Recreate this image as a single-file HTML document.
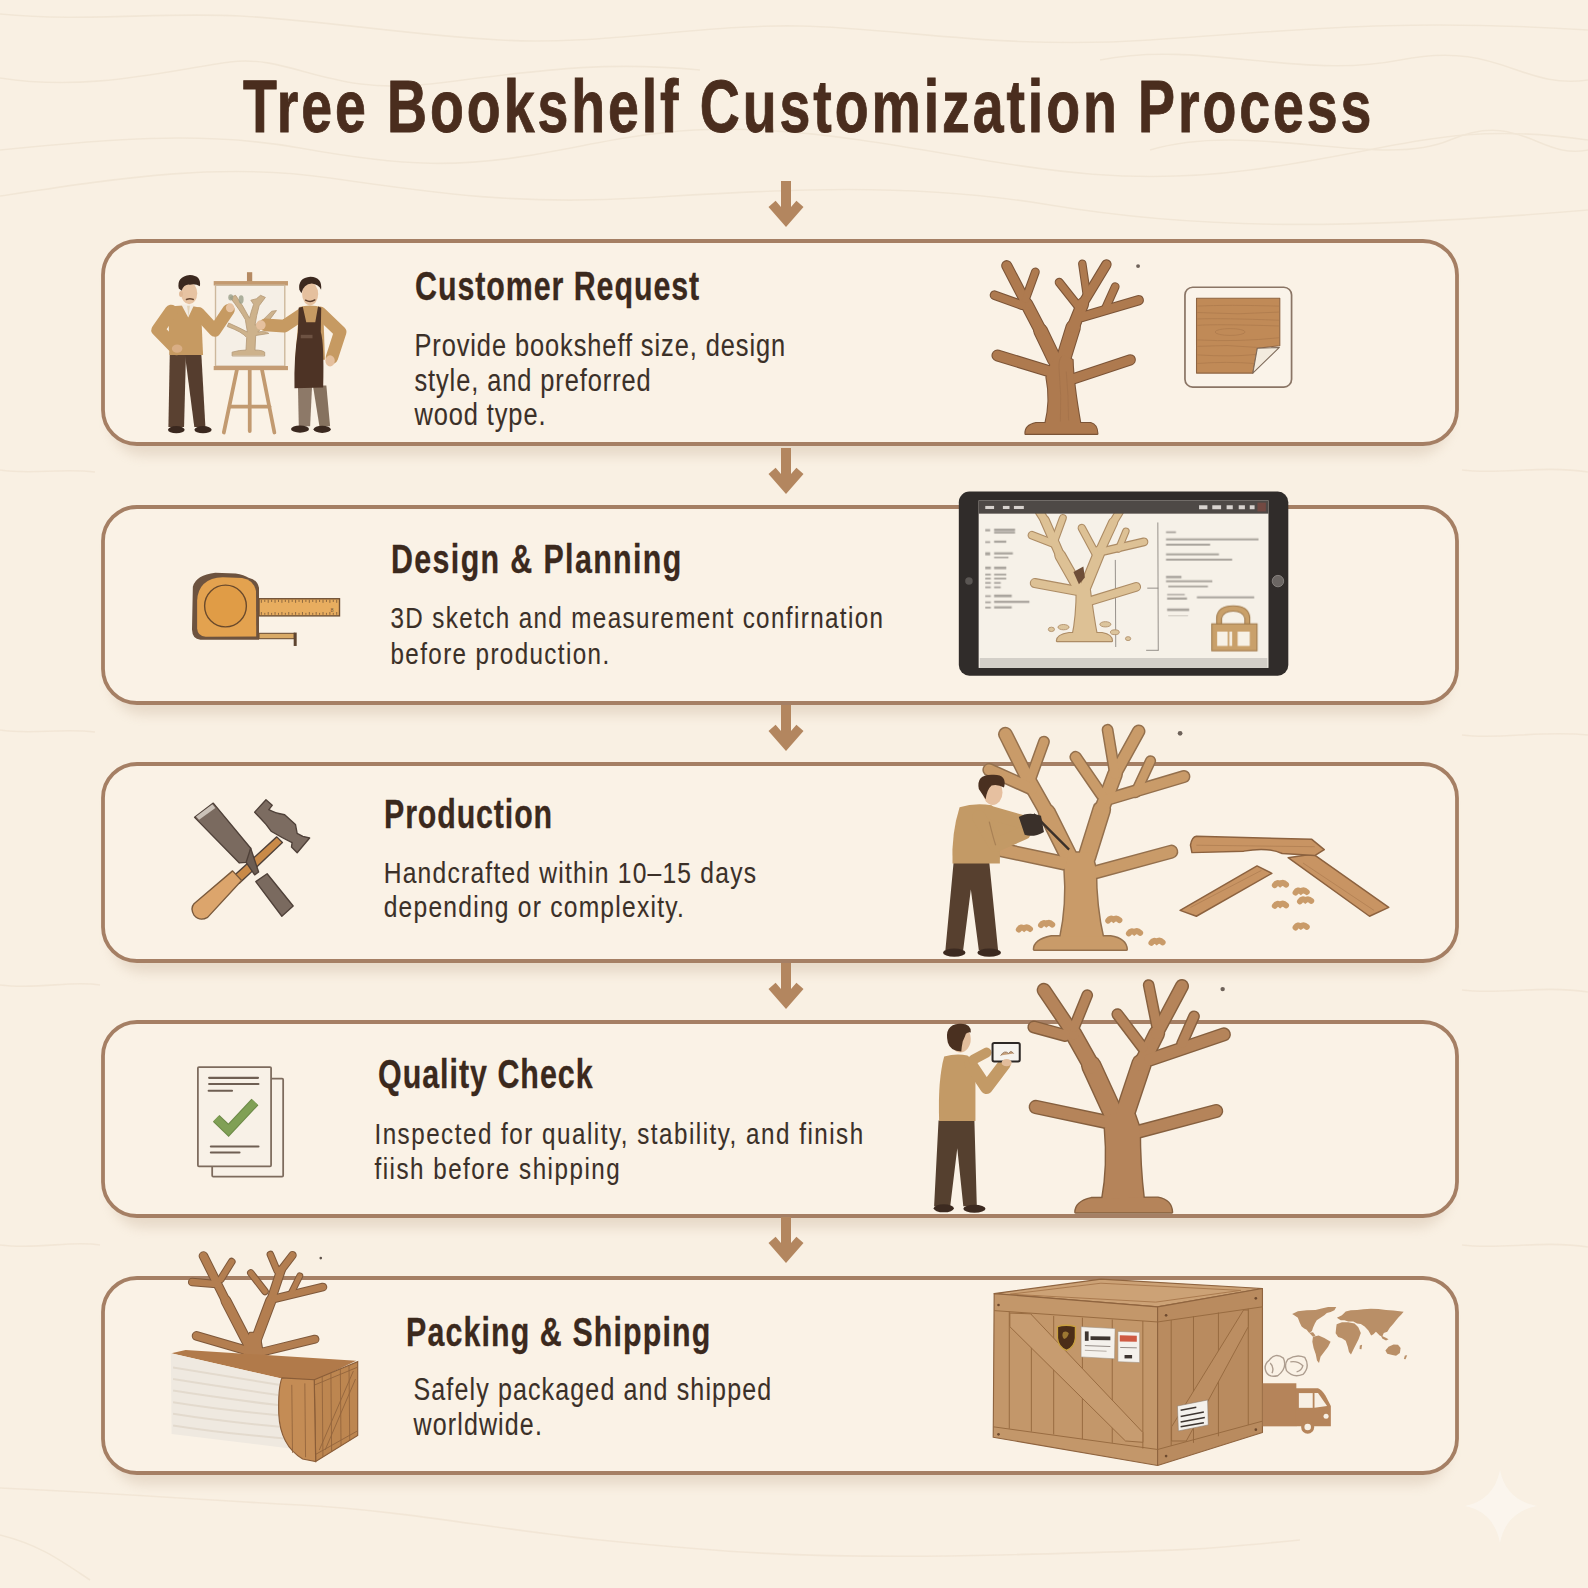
<!DOCTYPE html>
<html><head><meta charset="utf-8">
<style>
html,body{margin:0;padding:0;width:1588px;height:1588px;overflow:hidden;background:#f9f0e3;}
svg{position:absolute;left:0;top:0;}
.t{font-family:"Liberation Sans",sans-serif;}
</style></head>
<body>
<svg width="1588" height="1588" viewBox="0 0 1588 1588">
<defs>
 <filter id="sh" x="-5%" y="-20%" width="110%" height="150%">
  <feGaussianBlur stdDeviation="6"/>
 </filter>
 <path id="arr" d="M0,0 L-17.5,-20 L-10.4,-26.3 L-5,-20.1 L-5,-46 L5,-46 L5,-20.1 L10.4,-26.3 L17.5,-20 Z"/>
</defs>
<g id="grain" fill="none" stroke="#ecdfcc" stroke-width="1.6" opacity="0.55">
 <path d="M0,14 C80,22 160,12 240,16 S400,34 500,40 S700,24 800,26 S1000,50 1150,40 S1400,18 1588,30"/>
 <path d="M0,78 C90,92 170,70 230,62 S330,96 430,84 S600,60 700,70"/>
 <path d="M0,150 C100,140 200,130 300,148 S460,170 560,150 S720,120 860,140 S1100,190 1250,170 S1450,120 1588,140"/>
 <path d="M0,196 C120,178 220,162 330,178 S520,205 640,198 S900,180 1050,205 S1350,230 1588,210"/>
 <path d="M1100,60 C1200,40 1300,80 1400,60 S1520,90 1588,80"/>
 <path d="M1150,150 C1250,120 1380,170 1450,140 S1540,160 1588,150"/>
 <path d="M0,470 C30,475 60,468 95,472"/><path d="M0,730 C30,735 60,728 95,732"/>
 <path d="M0,985 C40,990 70,980 100,985"/><path d="M0,1245 C40,1250 70,1240 100,1245"/>
 <path d="M1462,470 C1500,475 1540,465 1588,472"/><path d="M1462,735 C1500,740 1540,730 1588,735"/>
 <path d="M1462,990 C1500,995 1540,985 1588,992"/><path d="M1462,1245 C1500,1250 1540,1240 1588,1247"/>
 <path d="M0,1488 C100,1492 200,1500 300,1505 S500,1530 600,1540 S800,1560 1000,1555 S1200,1550 1300,1540"/>
 <path d="M0,1535 C40,1545 60,1560 90,1580"/>
</g>
<g fill="#b09478" opacity="0.24" filter="url(#sh)">
 <rect x="110" y="250" width="1340" height="206" rx="34"/>
 <rect x="110" y="516" width="1340" height="199" rx="34"/>
 <rect x="110" y="773" width="1340" height="200" rx="34"/>
 <rect x="110" y="1031" width="1340" height="197" rx="34"/>
 <rect x="110" y="1287" width="1340" height="198" rx="34"/>
</g>
<g fill="#faf2e6" stroke="#a57f64" stroke-width="3.8">
 <rect x="103" y="241" width="1354" height="203" rx="34"/>
 <rect x="103" y="507" width="1354" height="196" rx="34"/>
 <rect x="103" y="764" width="1354" height="197" rx="34"/>
 <rect x="103" y="1022" width="1354" height="194" rx="34"/>
 <rect x="103" y="1278" width="1354" height="195" rx="34"/>
</g>
<g fill="#b3865f">
 <use href="#arr" transform="translate(786,227)"/>
 <use href="#arr" transform="translate(786,494)"/>
 <use href="#arr" transform="translate(786,751)"/>
 <use href="#arr" transform="translate(786,1009)"/>
 <use href="#arr" transform="translate(786,1263)"/>
</g>
<!-- card1 left: two men + easel ; zoom coords from [140,260,360,440] @7.218 -->
<g transform="translate(140,260) scale(0.13855)" stroke-linejoin="round" stroke-linecap="round">
 <!-- easel legs -->
 <g stroke="#c29a70" stroke-width="27" fill="none" stroke-linecap="round">
  <line x1="700" y1="790" x2="605" y2="1245"/>
  <line x1="880" y1="790" x2="970" y2="1245"/>
  <line x1="792" y1="790" x2="792" y2="1235"/>
  <line x1="650" y1="1058" x2="935" y2="1058"/>
 </g>
 <rect x="772" y="88" width="38" height="75" fill="#b58a62"/>
 <rect x="532" y="152" width="536" height="32" fill="#c39a70"/>
 <rect x="545" y="182" width="500" height="585" fill="#f5efe6" stroke="#cdb89c" stroke-width="10"/>
 <rect x="532" y="765" width="536" height="30" fill="#c49c74"/>
 <!-- drawn tree on canvas -->
 <g fill="#cdb28c" stroke="#b49a78" stroke-width="6">
  <path d="M665,690 L665,665 Q720,650 765,650 L770,560 Q740,520 630,480 L640,455 Q720,490 775,520 L760,430 Q720,360 650,270 L690,255 Q745,330 790,420 Q800,380 820,320 L800,290 L840,280 L870,255 L905,270 L860,330 Q840,400 830,470 Q890,440 950,370 L985,365 Q930,450 850,520 Q900,510 930,530 L835,545 L830,650 Q880,650 900,665 L900,690 Z"/>
 </g>
 <g fill="#9aa08a" opacity="0.8">
  <ellipse cx="730" cy="285" rx="18" ry="30"/>
  <ellipse cx="655" cy="270" rx="18" ry="22"/>
 </g>
 <!-- man 1 -->
 <g>
  <path d="M215,665 L332,665 L318,1205 L205,1205 Z" fill="#5a4131"/>
  <path d="M322,665 L442,665 L472,1205 L392,1205 Z" fill="#553d2e"/>
  <ellipse cx="262" cy="1225" rx="60" ry="26" fill="#3a281f"/>
  <ellipse cx="455" cy="1225" rx="62" ry="26" fill="#3a281f"/>
  <path d="M205,345 Q300,312 440,345 L455,685 L212,685 Z" fill="#c69a62"/>
  <g stroke="#c69a62" stroke-linecap="round" stroke-linejoin="round" fill="none">
   <polyline points="225,370 130,505 262,640" stroke-width="95"/>
   <polyline points="425,385 540,510 640,360" stroke-width="88"/>
  </g>
  <path d="M298,322 L348,415 L392,322 Z" fill="#f3ece2"/>
  <path d="M340,330 L350,412 L360,330 Z" fill="#e2d2b8"/>
  <ellipse cx="355" cy="240" rx="58" ry="80" fill="#e7c3a2"/>
  <ellipse cx="296" cy="245" rx="14" ry="22" fill="#e0b896"/>
  <path d="M280,205 Q262,120 360,108 Q445,112 432,190 Q400,168 360,178 Q318,172 300,222 Z" fill="#3b281e"/>
  <path d="M335,285 Q360,275 385,285" stroke="#6b4a35" stroke-width="10" fill="none"/>
  <ellipse cx="650" cy="345" rx="30" ry="32" fill="#e7c3a2"/>
  <ellipse cx="268" cy="640" rx="38" ry="30" fill="#d9ae85"/>
 </g>
 <!-- man 2 -->
 <g>
  <path d="M1140,905 L1242,905 L1228,1200 L1146,1200 Z" fill="#8d7968"/>
  <path d="M1248,905 L1345,905 L1372,1200 L1295,1200 Z" fill="#86725f"/>
  <ellipse cx="1155" cy="1220" rx="65" ry="26" fill="#3a281f"/>
  <ellipse cx="1315" cy="1222" rx="62" ry="26" fill="#3a281f"/>
  <path d="M1150,340 Q1230,315 1322,345 L1335,720 L1120,720 Z" fill="#c69a62"/>
  <g stroke="#c69a62" stroke-linecap="round" stroke-linejoin="round" fill="none">
   <polyline points="1165,395 1040,478 905,468" stroke-width="92"/>
   <polyline points="1300,380 1445,520 1385,705" stroke-width="90"/>
  </g>
  <path d="M1145,345 L1175,338 L1200,450 L1265,450 L1285,335 L1308,345 L1305,520 Q1330,600 1322,920 L1115,925 Q1110,700 1140,520 Z" fill="#4d3325"/>
  <ellipse cx="1228" cy="245" rx="58" ry="82" fill="#e5c09e"/>
  <path d="M1150,215 Q1138,128 1230,120 Q1318,123 1307,215 Q1290,175 1240,170 Q1180,175 1165,240 Z" fill="#3b281e"/>
  <path d="M1195,290 Q1230,310 1262,288" stroke="#5a3b2b" stroke-width="10" fill="none"/>
  <ellipse cx="872" cy="470" rx="35" ry="35" fill="#e5c09e"/>
  <ellipse cx="1372" cy="728" rx="34" ry="40" fill="#e5c09e"/>
  <rect x="1160" y="540" width="85" height="25" fill="#6d5242"/>
 </g>
</g>


<g transform="translate(980,255) scale(0.11652)"><g stroke="#7b5437" fill="#7b5437" stroke-linecap="round" stroke-linejoin="round">
<line x1="600" y1="1000" x2="150" y2="862" stroke-width="103"/>
<line x1="780" y1="1070" x2="1290" y2="900" stroke-width="96"/>
<line x1="640" y1="900" x2="520" y2="650" stroke-width="128"/>
<line x1="520" y1="650" x2="400" y2="420" stroke-width="113"/>
<line x1="400" y1="420" x2="230" y2="92" stroke-width="96"/>
<line x1="390" y1="380" x2="475" y2="145" stroke-width="76"/>
<line x1="360" y1="430" x2="125" y2="345" stroke-width="83"/>
<line x1="720" y1="880" x2="800" y2="620" stroke-width="133"/>
<line x1="800" y1="620" x2="880" y2="420" stroke-width="113"/>
<line x1="880" y1="420" x2="1085" y2="82" stroke-width="90"/>
<line x1="915" y1="330" x2="878" y2="75" stroke-width="73"/>
<line x1="850" y1="450" x2="680" y2="235" stroke-width="78"/>
<line x1="880" y1="530" x2="1362" y2="388" stroke-width="90"/>
<line x1="1075" y1="462" x2="1160" y2="272" stroke-width="76"/>
<path d="M560,1450 Q610,1250 570,1050 L600,950 L650,870 L720,860 L795,900 Q800,1100 862,1450 Z" stroke-width="18"/>
<path d="M390,1535 Q385,1462 480,1442 L950,1442 Q1005,1456 1008,1535 Z" stroke-width="18"/>
</g>
<g stroke="#ae7a4f" fill="#ae7a4f" stroke-linecap="round" stroke-linejoin="round">
<line x1="600" y1="1000" x2="150" y2="862" stroke-width="85"/>
<line x1="780" y1="1070" x2="1290" y2="900" stroke-width="78"/>
<line x1="640" y1="900" x2="520" y2="650" stroke-width="110"/>
<line x1="520" y1="650" x2="400" y2="420" stroke-width="95"/>
<line x1="400" y1="420" x2="230" y2="92" stroke-width="78"/>
<line x1="390" y1="380" x2="475" y2="145" stroke-width="58"/>
<line x1="360" y1="430" x2="125" y2="345" stroke-width="65"/>
<line x1="720" y1="880" x2="800" y2="620" stroke-width="115"/>
<line x1="800" y1="620" x2="880" y2="420" stroke-width="95"/>
<line x1="880" y1="420" x2="1085" y2="82" stroke-width="72"/>
<line x1="915" y1="330" x2="878" y2="75" stroke-width="55"/>
<line x1="850" y1="450" x2="680" y2="235" stroke-width="60"/>
<line x1="880" y1="530" x2="1362" y2="388" stroke-width="72"/>
<line x1="1075" y1="462" x2="1160" y2="272" stroke-width="58"/>
<path d="M560,1450 Q610,1250 570,1050 L600,950 L650,870 L720,860 L795,900 Q800,1100 862,1450 Z" stroke="none"/>
<path d="M390,1535 Q385,1462 480,1442 L950,1442 Q1005,1456 1008,1535 Z" stroke="none"/>
</g>
<g stroke="#9a6b45" stroke-width="6" fill="none" opacity="0.6"><path d="M690,1430 Q700,1200 680,1000 Q670,900 700,870"/><path d="M760,1420 Q760,1200 740,1000"/></g></g>
<g transform="translate(970,250) scale(0.2141)">
<circle cx="785" cy="75" r="9" fill="#6e625a"/>
<rect x="1004" y="174" width="498" height="466" rx="36" fill="#faf3e9" stroke="#8a7565" stroke-width="8"/>
<path d="M1058,225 L1447,225 L1447,447 L1342,459 L1321,575 L1058,575 Z" fill="#c08a57" stroke="#8e6442" stroke-width="5" stroke-linejoin="round"/>
<g stroke="#a9764a" stroke-width="4" fill="none" opacity="0.7">
 <path d="M1062,262 Q1200,255 1443,262"/><path d="M1062,292 Q1250,305 1443,290"/>
 <path d="M1062,322 Q1180,318 1443,328"/><path d="M1062,352 Q1150,345 1443,355"/><path d="M1062,420 Q1250,430 1443,410"/>
 <path d="M1062,450 Q1200,440 1340,455"/><path d="M1062,490 Q1220,500 1335,488"/>
 <path d="M1062,530 Q1200,520 1328,530"/>
 <ellipse cx="1215" cy="383" rx="70" ry="16"/>
</g>
<path d="M1342,459 L1445,455 L1321,575 Z" fill="#f3ebde" stroke="#7e6a5a" stroke-width="5" stroke-linejoin="round"/>
</g>
<g transform="translate(950,485) scale(0.2204)">
<rect x="40" y="30" width="1495" height="835" rx="48" fill="#302c2a"/>
<circle cx="86" cy="436" r="17" fill="#5a5653"/>
<circle cx="1488" cy="436" r="26" fill="#6b6663" stroke="#8a8582" stroke-width="4"/>
<rect x="130" y="70" width="1315" height="760" fill="#f6f1e8"/>
<rect x="135" y="785" width="1305" height="45" fill="#d3cfc8"/>
<g stroke="#8a847e" stroke-width="4"><line x1="750" y1="340" x2="752" y2="735"/><line x1="943" y1="170" x2="945" y2="752"/>
<line x1="895" y1="468" x2="945" y2="468"/><line x1="890" y1="750" x2="945" y2="750"/></g>
<g stroke="#ad8c65" fill="#ad8c65" stroke-linecap="round" stroke-linejoin="round">
<line x1="585" y1="470" x2="500" y2="320" stroke-width="54"/>
<line x1="500" y1="320" x2="430" y2="160" stroke-width="46"/>
<line x1="430" y1="160" x2="405" y2="120" stroke-width="42"/>
<line x1="480" y1="270" x2="372" y2="228" stroke-width="40"/>
<line x1="470" y1="265" x2="512" y2="150" stroke-width="36"/>
<line x1="615" y1="460" x2="680" y2="300" stroke-width="56"/>
<line x1="680" y1="300" x2="740" y2="170" stroke-width="46"/>
<line x1="740" y1="170" x2="770" y2="120" stroke-width="40"/>
<line x1="665" y1="320" x2="598" y2="195" stroke-width="38"/>
<line x1="700" y1="300" x2="880" y2="258" stroke-width="40"/>
<line x1="765" y1="290" x2="798" y2="210" stroke-width="34"/>
<line x1="575" y1="480" x2="385" y2="445" stroke-width="46"/>
<line x1="640" y1="525" x2="845" y2="462" stroke-width="44"/>
<path d="M555,690 Q575,600 575,470 L630,440 Q650,600 668,690 Z" stroke-width="10"/>
<path d="M485,708 Q485,680 540,672 L690,672 Q735,680 735,708 Z" stroke-width="10"/>
</g>
<g stroke="#ddc195" fill="#ddc195" stroke-linecap="round" stroke-linejoin="round">
<line x1="585" y1="470" x2="500" y2="320" stroke-width="44"/>
<line x1="500" y1="320" x2="430" y2="160" stroke-width="36"/>
<line x1="430" y1="160" x2="405" y2="120" stroke-width="32"/>
<line x1="480" y1="270" x2="372" y2="228" stroke-width="30"/>
<line x1="470" y1="265" x2="512" y2="150" stroke-width="26"/>
<line x1="615" y1="460" x2="680" y2="300" stroke-width="46"/>
<line x1="680" y1="300" x2="740" y2="170" stroke-width="36"/>
<line x1="740" y1="170" x2="770" y2="120" stroke-width="30"/>
<line x1="665" y1="320" x2="598" y2="195" stroke-width="28"/>
<line x1="700" y1="300" x2="880" y2="258" stroke-width="30"/>
<line x1="765" y1="290" x2="798" y2="210" stroke-width="24"/>
<line x1="575" y1="480" x2="385" y2="445" stroke-width="36"/>
<line x1="640" y1="525" x2="845" y2="462" stroke-width="34"/>
<path d="M555,690 Q575,600 575,470 L630,440 Q650,600 668,690 Z" stroke="none"/>
<path d="M485,708 Q485,680 540,672 L690,672 Q735,680 735,708 Z" stroke="none"/>
</g>

<rect x="130" y="70" width="1315" height="60" fill="#4e4946"/>
<g fill="#d8d3cf"><rect x="160" y="95" width="40" height="14"/><rect x="240" y="95" width="30" height="14"/><rect x="290" y="95" width="45" height="14"/>
<rect x="1130" y="92" width="38" height="18"/><rect x="1190" y="92" width="40" height="18"/><rect x="1255" y="92" width="28" height="18"/><rect x="1310" y="92" width="28" height="18"/><rect x="1360" y="92" width="22" height="18"/></g>
<rect x="1395" y="80" width="38" height="40" fill="#8a4a40" opacity="0.6"/>
<path d="M560,395 L605,370 L612,420 L585,450 Z" fill="#6e4e38"/>
<g fill="#dcc59d" stroke="#b0906a" stroke-width="4"><ellipse cx="515" cy="645" rx="25" ry="12"/><ellipse cx="705" cy="632" rx="25" ry="12"/><ellipse cx="748" cy="668" rx="20" ry="11"/><ellipse cx="460" cy="655" rx="14" ry="10"/><ellipse cx="808" cy="697" rx="12" ry="9"/></g>
<g fill="#6a645f" opacity="0.55">
 <rect x="160" y="200" width="22" height="10"/><rect x="200" y="198" width="95" height="12"/><rect x="200" y="212" width="95" height="8"/>
 <rect x="160" y="255" width="22" height="8"/><rect x="200" y="252" width="55" height="10"/>
 <rect x="160" y="305" width="22" height="14"/><rect x="200" y="305" width="85" height="10"/><rect x="200" y="325" width="65" height="7"/>
 <rect x="160" y="370" width="25" height="12"/><rect x="200" y="370" width="55" height="12"/>
 <rect x="160" y="402" width="25" height="8"/><rect x="200" y="402" width="55" height="8"/>
 <rect x="160" y="420" width="25" height="8"/><rect x="200" y="420" width="55" height="8"/>
 <rect x="160" y="440" width="25" height="8"/><rect x="200" y="440" width="30" height="8"/>
 <rect x="160" y="460" width="25" height="8"/><rect x="200" y="460" width="30" height="8"/>
 <rect x="160" y="500" width="25" height="8"/><rect x="200" y="497" width="80" height="12"/>
 <rect x="160" y="528" width="25" height="8"/><rect x="200" y="525" width="160" height="10"/>
 <rect x="160" y="552" width="25" height="8"/><rect x="200" y="550" width="80" height="10"/>
 <rect x="980" y="210" width="45" height="8"/>
 <rect x="980" y="242" width="420" height="9"/><rect x="980" y="266" width="200" height="9"/>
 <rect x="980" y="310" width="240" height="9"/><rect x="980" y="334" width="300" height="9"/>
 <rect x="980" y="412" width="70" height="11"/><rect x="980" y="432" width="210" height="9"/><rect x="990" y="456" width="180" height="8"/>
 <rect x="985" y="494" width="80" height="6"/><rect x="985" y="510" width="90" height="10"/><rect x="1120" y="505" width="260" height="9"/>
 <rect x="985" y="560" width="100" height="12"/><rect x="990" y="590" width="90" height="6" opacity="0.4"/>
</g>
<g fill="#c9a06a" stroke="#a07a4c" stroke-width="5">
 <path d="M1210,640 L1210,600 Q1215,548 1285,548 Q1355,548 1360,600 L1360,640 L1338,640 L1338,605 Q1330,572 1285,572 Q1240,572 1232,605 L1232,640 Z"/>
 <rect x="1188" y="630" width="205" height="122"/>
</g>
<g fill="#f7f1e6"><rect x="1212" y="665" width="48" height="65"/><rect x="1305" y="665" width="55" height="65"/><rect x="1268" y="665" width="12" height="65"/></g>
</g>
<g transform="translate(180,560) scale(0.10705)">
<path d="M120,250 Q150,140 330,120 L520,125 Q600,140 640,165 Q720,180 738,260 L738,745 L190,745 Q115,740 112,650 Z" fill="#6d533f"/>
<path d="M160,380 Q170,170 400,160 L580,168 Q690,185 710,290 L712,715 L240,718 Q165,712 160,640 Z" fill="#e3a24f"/>
<circle cx="425" cy="430" r="195" fill="#e09c46" stroke="#6a4a2c" stroke-width="13"/>
<rect x="738" y="362" width="752" height="160" fill="#e8ad5f" stroke="#6e5035" stroke-width="13"/>
<g stroke="#6e5035" stroke-width="7"><line x1="760" y1="372" x2="760" y2="400"/><line x1="760" y1="512" x2="760" y2="486"/><line x1="792" y1="372" x2="792" y2="392"/><line x1="792" y1="512" x2="792" y2="494"/><line x1="824" y1="372" x2="824" y2="400"/><line x1="824" y1="512" x2="824" y2="486"/><line x1="856" y1="372" x2="856" y2="392"/><line x1="856" y1="512" x2="856" y2="494"/><line x1="888" y1="372" x2="888" y2="400"/><line x1="888" y1="512" x2="888" y2="486"/><line x1="920" y1="372" x2="920" y2="392"/><line x1="920" y1="512" x2="920" y2="494"/><line x1="952" y1="372" x2="952" y2="400"/><line x1="952" y1="512" x2="952" y2="486"/><line x1="984" y1="372" x2="984" y2="392"/><line x1="984" y1="512" x2="984" y2="494"/><line x1="1016" y1="372" x2="1016" y2="400"/><line x1="1016" y1="512" x2="1016" y2="486"/><line x1="1048" y1="372" x2="1048" y2="392"/><line x1="1048" y1="512" x2="1048" y2="494"/><line x1="1080" y1="372" x2="1080" y2="400"/><line x1="1080" y1="512" x2="1080" y2="486"/><line x1="1112" y1="372" x2="1112" y2="392"/><line x1="1112" y1="512" x2="1112" y2="494"/><line x1="1144" y1="372" x2="1144" y2="400"/><line x1="1144" y1="512" x2="1144" y2="486"/><line x1="1176" y1="372" x2="1176" y2="392"/><line x1="1176" y1="512" x2="1176" y2="494"/><line x1="1208" y1="372" x2="1208" y2="400"/><line x1="1208" y1="512" x2="1208" y2="486"/><line x1="1240" y1="372" x2="1240" y2="392"/><line x1="1240" y1="512" x2="1240" y2="494"/><line x1="1272" y1="372" x2="1272" y2="400"/><line x1="1272" y1="512" x2="1272" y2="486"/><line x1="1304" y1="372" x2="1304" y2="392"/><line x1="1304" y1="512" x2="1304" y2="494"/><line x1="1336" y1="372" x2="1336" y2="400"/><line x1="1336" y1="512" x2="1336" y2="486"/><line x1="1368" y1="372" x2="1368" y2="392"/><line x1="1368" y1="512" x2="1368" y2="494"/><line x1="1400" y1="372" x2="1400" y2="400"/><line x1="1400" y1="512" x2="1400" y2="486"/><line x1="1432" y1="372" x2="1432" y2="392"/><line x1="1432" y1="512" x2="1432" y2="494"/><line x1="1464" y1="372" x2="1464" y2="400"/><line x1="1464" y1="512" x2="1464" y2="486"/></g>
<text x="1405" y="490" font-family="Liberation Sans" font-size="50" fill="#6e5035">8</text>
<rect x="738" y="685" width="330" height="50" fill="#d9aa66" stroke="#6e5035" stroke-width="10"/>
<rect x="1062" y="678" width="28" height="125" fill="#5e4530"/>
</g>
<g transform="translate(160,770) scale(0.11335)">
<g stroke="#4f4139" stroke-width="12" stroke-linejoin="round">
 <path d="M1030,590 L1080,640 L700,1000 L640,945 Z" fill="#c98a48"/>
 <path d="M640,890 L720,975 L420,1300 Q350,1340 300,1280 Q265,1220 300,1180 Z" fill="#dca56c" stroke="#7a5a3c"/>
 <path d="M305,418 L470,292 L800,690 Q790,780 760,815 L700,820 Z" fill="#7a6a5f"/>
 <path d="M318,410 L462,302 L488,335 L345,440 Z" fill="#cbc2b8" stroke="none"/>
 <path d="M760,815 L800,690 L870,900 L835,925 Z" fill="#6c5d53"/>
 <path d="M845,985 L945,915 L1175,1200 L1075,1290 Z" fill="#7a6a5f"/>
 <path d="M835,372 L935,262 L990,312 L960,350 Q1010,380 1100,395 L1195,480 L1210,560 L1260,585 L1320,600 L1210,730 L1160,680 L1165,640 Q1080,600 980,540 L935,480 L890,430 Z" fill="#7c6c61"/>
</g>
</g>
<g transform="translate(930,715) scale(0.29597)"><g stroke="#94704d" fill="#94704d" stroke-linecap="round" stroke-linejoin="round">
<line x1="470" y1="480" x2="395" y2="330" stroke-width="62"/>
<line x1="395" y1="330" x2="330" y2="215" stroke-width="54"/>
<line x1="330" y1="215" x2="255" y2="65" stroke-width="50"/>
<line x1="340" y1="215" x2="385" y2="90" stroke-width="40"/>
<line x1="345" y1="250" x2="200" y2="185" stroke-width="46"/>
<line x1="530" y1="480" x2="580" y2="320" stroke-width="64"/>
<line x1="580" y1="320" x2="625" y2="200" stroke-width="54"/>
<line x1="625" y1="200" x2="705" y2="55" stroke-width="46"/>
<line x1="625" y1="200" x2="600" y2="50" stroke-width="40"/>
<line x1="580" y1="270" x2="492" y2="142" stroke-width="42"/>
<line x1="600" y1="285" x2="858" y2="208" stroke-width="44"/>
<line x1="695" y1="262" x2="745" y2="155" stroke-width="38"/>
<line x1="450" y1="500" x2="215" y2="450" stroke-width="50"/>
<line x1="545" y1="535" x2="815" y2="462" stroke-width="48"/>
<path d="M440,755 Q465,640 455,520 L470,465 L545,465 L560,520 Q560,650 585,755 Z" stroke-width="10"/>
<path d="M352,792 Q352,760 410,748 L610,748 Q662,756 664,792 Z" stroke-width="10"/>
</g>
<g stroke="#c99b69" fill="#c99b69" stroke-linecap="round" stroke-linejoin="round">
<line x1="470" y1="480" x2="395" y2="330" stroke-width="52"/>
<line x1="395" y1="330" x2="330" y2="215" stroke-width="44"/>
<line x1="330" y1="215" x2="255" y2="65" stroke-width="40"/>
<line x1="340" y1="215" x2="385" y2="90" stroke-width="30"/>
<line x1="345" y1="250" x2="200" y2="185" stroke-width="36"/>
<line x1="530" y1="480" x2="580" y2="320" stroke-width="54"/>
<line x1="580" y1="320" x2="625" y2="200" stroke-width="44"/>
<line x1="625" y1="200" x2="705" y2="55" stroke-width="36"/>
<line x1="625" y1="200" x2="600" y2="50" stroke-width="30"/>
<line x1="580" y1="270" x2="492" y2="142" stroke-width="32"/>
<line x1="600" y1="285" x2="858" y2="208" stroke-width="34"/>
<line x1="695" y1="262" x2="745" y2="155" stroke-width="28"/>
<line x1="450" y1="500" x2="215" y2="450" stroke-width="40"/>
<line x1="545" y1="535" x2="815" y2="462" stroke-width="38"/>
<path d="M440,755 Q465,640 455,520 L470,465 L545,465 L560,520 Q560,650 585,755 Z" stroke="none"/>
<path d="M352,792 Q352,760 410,748 L610,748 Q662,756 664,792 Z" stroke="none"/>
</g>

<g fill="none" stroke="#c99b69" stroke-width="20" stroke-linecap="round"><path d="M1165,575 q8,-12 18,-4 q10,-8 20,2" /><path d="M1235,600 q8,-12 18,-4 q10,-8 20,2" /><path d="M1250,630 q8,-12 18,-4 q10,-8 20,2" /><path d="M1165,645 q8,-12 18,-4 q10,-8 20,2" /><path d="M1235,718 q8,-12 18,-4 q10,-8 20,2" /><path d="M300,725 q8,-12 18,-4 q10,-8 20,2" /><path d="M375,710 q8,-12 18,-4 q10,-8 20,2" /><path d="M602,695 q8,-12 18,-4 q10,-8 20,2" /><path d="M672,738 q8,-12 18,-4 q10,-8 20,2" /><path d="M748,770 q8,-12 18,-4 q10,-8 20,2" /></g>

<g fill="#c89463" stroke="#8c623f" stroke-width="5" stroke-linejoin="round">
 <path d="M845,660 L1105,510 L1155,535 L900,680 Z"/>
 <path d="M1210,482 L1295,470 L1550,650 L1485,680 Z"/>
 <path d="M880,440 Q885,412 900,410 L1290,420 L1332,455 L1300,475 L1190,468 Q1140,445 1060,460 L885,465 Z"/>
</g>
<g stroke="#a9794e" stroke-width="3" fill="none" opacity="0.7">
 <path d="M900,440 L1300,445"/><path d="M880,650 L1120,525"/><path d="M1260,500 L1500,660"/>
</g>

<path d="M80,495 L200,495 L230,795 L165,795 L138,590 L112,795 L52,795 Z" fill="#57402f"/>
<ellipse cx="82" cy="803" rx="38" ry="14" fill="#3c2a20"/><ellipse cx="200" cy="803" rx="40" ry="14" fill="#3c2a20"/>
<path d="M100,312 Q150,296 208,305 L238,335 L236,502 L76,502 Q72,400 100,312 Z" fill="#c39a66"/><path d="M200,320 L320,350 L325,400 L230,450 Z" fill="#c39a66"/>
<g stroke="#c39a66" stroke-linecap="round" stroke-linejoin="round" fill="none"><polyline points="205,330 315,362" stroke-width="46"/><polyline points="165,345 222,440 318,398" stroke-width="46"/></g>
<g stroke="#a88155" stroke-width="4" fill="none"><path d="M200,360 Q215,420 222,440"/></g>
<ellipse cx="212" cy="262" rx="33" ry="42" fill="#e6c0a0"/>
<path d="M165,250 Q155,200 212,202 Q262,200 250,245 Q228,232 208,238 Q192,252 188,285 Z" fill="#4a3020"/>
<path d="M300,345 Q330,325 375,340 L385,395 Q350,415 320,405 Z" fill="#3a302a"/>
<line x1="350" y1="335" x2="470" y2="455" stroke="#3a302a" stroke-width="8"/>

<circle cx="845" cy="62" r="8" fill="#6e625a"/>
</g>
<g transform="translate(180,1050) scale(0.08817)">
<g fill="#f8f1e7" stroke="#7d6b5d" stroke-width="20" stroke-linejoin="round">
 <rect x="365" y="325" width="805" height="1110" rx="12"/>
 <rect x="203" y="193" width="830" height="1127" rx="12"/>
</g>
<g stroke="#6f5f53" stroke-width="24" stroke-linecap="round">
 <line x1="330" y1="316" x2="885" y2="316"/><line x1="330" y1="386" x2="890" y2="386"/><line x1="325" y1="462" x2="590" y2="462"/>
 <line x1="350" y1="1095" x2="890" y2="1095"/><line x1="350" y1="1162" x2="675" y2="1162"/>
</g>
<polyline points="410,775 550,910 850,590" fill="none" stroke="#6d8a48" stroke-width="108" stroke-linejoin="miter" stroke-linecap="butt"/>
<polyline points="410,775 550,910 850,590" fill="none" stroke="#80a055" stroke-width="84" stroke-linejoin="miter" stroke-linecap="butt"/>
</g>
<g transform="translate(920,975) scale(0.2015)"><g stroke="#86603f" fill="#86603f" stroke-linecap="round" stroke-linejoin="round">
<line x1="960" y1="690" x2="850" y2="450" stroke-width="102"/>
<line x1="850" y1="450" x2="760" y2="290" stroke-width="88"/>
<line x1="760" y1="290" x2="615" y2="75" stroke-width="72"/>
<line x1="765" y1="260" x2="830" y2="100" stroke-width="58"/>
<line x1="720" y1="300" x2="565" y2="258" stroke-width="64"/>
<line x1="1020" y1="680" x2="1100" y2="440" stroke-width="102"/>
<line x1="1100" y1="440" x2="1175" y2="290" stroke-width="84"/>
<line x1="1175" y1="290" x2="1300" y2="55" stroke-width="70"/>
<line x1="1175" y1="250" x2="1135" y2="50" stroke-width="58"/>
<line x1="1105" y1="360" x2="980" y2="195" stroke-width="60"/>
<line x1="1140" y1="420" x2="1508" y2="295" stroke-width="70"/>
<line x1="1300" y1="340" x2="1360" y2="205" stroke-width="58"/>
<line x1="930" y1="730" x2="575" y2="655" stroke-width="72"/>
<line x1="1075" y1="780" x2="1470" y2="675" stroke-width="70"/>
<path d="M905,1112 Q935,950 918,760 L945,690 L1065,690 L1090,760 Q1090,950 1110,1112 Z" stroke-width="14"/>
<path d="M772,1178 Q772,1125 850,1108 L1180,1106 Q1248,1118 1250,1178 Z" stroke-width="14"/>
</g>
<g stroke="#b5845a" fill="#b5845a" stroke-linecap="round" stroke-linejoin="round">
<line x1="960" y1="690" x2="850" y2="450" stroke-width="88"/>
<line x1="850" y1="450" x2="760" y2="290" stroke-width="74"/>
<line x1="760" y1="290" x2="615" y2="75" stroke-width="58"/>
<line x1="765" y1="260" x2="830" y2="100" stroke-width="44"/>
<line x1="720" y1="300" x2="565" y2="258" stroke-width="50"/>
<line x1="1020" y1="680" x2="1100" y2="440" stroke-width="88"/>
<line x1="1100" y1="440" x2="1175" y2="290" stroke-width="70"/>
<line x1="1175" y1="290" x2="1300" y2="55" stroke-width="56"/>
<line x1="1175" y1="250" x2="1135" y2="50" stroke-width="44"/>
<line x1="1105" y1="360" x2="980" y2="195" stroke-width="46"/>
<line x1="1140" y1="420" x2="1508" y2="295" stroke-width="56"/>
<line x1="1300" y1="340" x2="1360" y2="205" stroke-width="44"/>
<line x1="930" y1="730" x2="575" y2="655" stroke-width="58"/>
<line x1="1075" y1="780" x2="1470" y2="675" stroke-width="56"/>
<path d="M905,1112 Q935,950 918,760 L945,690 L1065,690 L1090,760 Q1090,950 1110,1112 Z" stroke="none"/>
<path d="M772,1178 Q772,1125 850,1108 L1180,1106 Q1248,1118 1250,1178 Z" stroke="none"/>
</g>

<path d="M92,722 L270,722 L282,1148 L215,1148 L185,860 L150,1148 L70,1148 Z" fill="#55402f"/>
<ellipse cx="118" cy="1158" rx="50" ry="20" fill="#3c2a20"/><ellipse cx="270" cy="1160" rx="55" ry="20" fill="#3c2a20"/>
<path d="M120,405 Q180,388 235,400 L275,430 L275,725 L95,725 Q88,520 120,405 Z" fill="#c39a66"/>
<g stroke="#c39a66" stroke-linecap="round" stroke-linejoin="round" fill="none">
 <polyline points="250,440 330,560 420,440" stroke-width="62"/>
 <polyline points="265,420 330,385" stroke-width="50"/>
</g>
<ellipse cx="200" cy="318" rx="52" ry="66" fill="#e2bd9c"/>
<path d="M138,335 Q118,248 195,242 Q255,238 252,285 Q238,282 228,292 Q222,310 212,330 Q206,360 205,380 Q150,378 138,335 Z" fill="#4a3020"/>
<rect x="360" y="337" width="135" height="92" rx="8" fill="#f6f3ee" stroke="#2d2826" stroke-width="10"/>
<path d="M400,400 q20,-30 40,-10 q10,-20 25,0" fill="#c6a07a" stroke="#8a6a50" stroke-width="4"/>
<ellipse cx="430" cy="435" rx="25" ry="18" fill="#e2bd9c"/>
<circle cx="1502" cy="70" r="11" fill="#6e625a"/></g>
<g transform="translate(160,1240) scale(0.14483)"><g stroke="#7e583a" fill="#7e583a" stroke-linecap="round" stroke-linejoin="round">
<line x1="610" y1="720" x2="455" y2="420" stroke-width="76"/>
<line x1="455" y1="420" x2="300" y2="110" stroke-width="66"/>
<line x1="420" y1="270" x2="495" y2="150" stroke-width="54"/>
<line x1="390" y1="305" x2="222" y2="290" stroke-width="58"/>
<line x1="660" y1="700" x2="765" y2="420" stroke-width="78"/>
<line x1="765" y1="420" x2="835" y2="210" stroke-width="66"/>
<line x1="835" y1="210" x2="915" y2="105" stroke-width="58"/>
<line x1="810" y1="215" x2="762" y2="100" stroke-width="52"/>
<line x1="725" y1="355" x2="627" y2="228" stroke-width="52"/>
<line x1="790" y1="405" x2="1125" y2="325" stroke-width="60"/>
<line x1="905" y1="370" x2="965" y2="248" stroke-width="48"/>
<line x1="590" y1="760" x2="252" y2="662" stroke-width="66"/>
<line x1="700" y1="775" x2="1070" y2="685" stroke-width="62"/>
<path d="M555,880 Q585,780 585,700 L620,640 L690,640 Q700,780 745,880 Z" stroke-width="14"/>
</g>
<g stroke="#b37e50" fill="#b37e50" stroke-linecap="round" stroke-linejoin="round">
<line x1="610" y1="720" x2="455" y2="420" stroke-width="62"/>
<line x1="455" y1="420" x2="300" y2="110" stroke-width="52"/>
<line x1="420" y1="270" x2="495" y2="150" stroke-width="40"/>
<line x1="390" y1="305" x2="222" y2="290" stroke-width="44"/>
<line x1="660" y1="700" x2="765" y2="420" stroke-width="64"/>
<line x1="765" y1="420" x2="835" y2="210" stroke-width="52"/>
<line x1="835" y1="210" x2="915" y2="105" stroke-width="44"/>
<line x1="810" y1="215" x2="762" y2="100" stroke-width="38"/>
<line x1="725" y1="355" x2="627" y2="228" stroke-width="38"/>
<line x1="790" y1="405" x2="1125" y2="325" stroke-width="46"/>
<line x1="905" y1="370" x2="965" y2="248" stroke-width="34"/>
<line x1="590" y1="760" x2="252" y2="662" stroke-width="52"/>
<line x1="700" y1="775" x2="1070" y2="685" stroke-width="48"/>
<path d="M555,880 Q585,780 585,700 L620,640 L690,640 Q700,780 745,880 Z" stroke="none"/>
</g>

<path d="M78,782 L177,760 L1355,834 L1064,974 L838,957 Z" fill="#b17a4a"/>
<path d="M75,782 L838,957 Q805,1150 850,1320 L900,1440 L80,1340 Z" fill="#efe9e0"/>
<g stroke="#e2d9cc" stroke-width="14" fill="none" opacity="0.9">
 <path d="M90,880 Q400,930 820,1000"/><path d="M90,960 Q400,1010 815,1070"/><path d="M90,1040 Q400,1090 815,1140"/>
 <path d="M90,1120 Q400,1170 820,1210"/><path d="M90,1200 Q400,1250 830,1290"/><path d="M90,1280 Q400,1330 860,1370"/>
</g>
<path d="M1065,965 L1365,840 L1365,1350 L1075,1530 Z" fill="#bd8650" stroke="#8a5d38" stroke-width="8"/>
<path d="M842,952 L1065,965 L1075,1530 L985,1512 Q830,1420 820,1200 Q815,1020 842,952 Z" fill="#c48c55" stroke="#8a5d38" stroke-width="8"/>
<g stroke="#8a5d38" stroke-width="6" fill="none" opacity="0.85">
 <line x1="910" y1="1000" x2="915" y2="1470"/><line x1="1000" y1="990" x2="1005" y2="1500"/>
 <line x1="1120" y1="945" x2="1125" y2="1495"/><line x1="1180" y1="920" x2="1185" y2="1460"/><line x1="1245" y1="890" x2="1250" y2="1420"/><line x1="1305" y1="865" x2="1310" y2="1385"/>
 <path d="M1100,1450 L1335,905"/><path d="M1140,1450 L1350,960"/>
 <path d="M1070,1000 L1360,880"/><path d="M1075,1480 L1360,1320"/>
</g>
<circle cx="1110" cy="125" r="9" fill="#5e524a"/></g>
<g transform="translate(980,1270) scale(0.18893)">
<g stroke="#8f643f" stroke-width="6" stroke-linejoin="round">
 <path d="M75,125 L640,48 L1495,98 L940,195 Z" fill="#cca276"/>
 <path d="M160,128 L640,70 L1380,108 L930,170 Z" fill="none" stroke="#a8784c" stroke-width="5"/>
 <path d="M75,125 L940,195 L940,1035 L70,885 Z" fill="#c3976a"/>
 <path d="M940,195 L1495,98 L1495,860 L940,1035 Z" fill="#b98b5f"/>
</g>
<g stroke="#96693f" stroke-width="5" fill="none">
 <path d="M75,215 L940,275"/><path d="M70,830 L940,950"/><path d="M155,220 L155,840"/><path d="M862,270 L862,945"/>
 <path d="M940,275 L1495,195"/><path d="M940,950 L1495,800"/><path d="M1012,265 L1012,930"/><path d="M1420,205 L1420,820"/>
 <path d="M272,235 L272,855"/><path d="M390,243 L390,870"/><path d="M542,252 L542,895"/><path d="M700,262 L700,915"/>
 <path d="M1130,245 L1130,915"/><path d="M1262,225 L1262,880"/>
</g>
<g stroke="#96693f" stroke-width="5" fill="#c79c70" stroke-linejoin="round">
 <path d="M158,228 L268,232 L862,860 L862,912 L770,905 L158,300 Z"/>
 <path d="M1014,905 L1014,830 L1395,212 L1420,212 L1420,300 L1092,905 Z" fill="#bc8e62"/>
</g>
<g fill="#6e4a2e"><circle cx="98" cy="185" r="7"/><circle cx="98" cy="870" r="7"/><circle cx="985" cy="240" r="7"/><circle cx="985" cy="985" r="7"/><circle cx="1460" cy="150" r="7"/><circle cx="1460" cy="845" r="7"/></g>
<path d="M410,300 Q455,285 505,300 L505,360 Q500,410 458,425 Q415,410 410,360 Z" fill="#4b2d18" stroke="#c9a040" stroke-width="7"/>
<path d="M440,330 q18,-10 30,5 q-5,25 -25,30 q-15,-15 -5,-35 Z" fill="#b08a3a" opacity="0.8"/>
<path d="M535,300 L715,310 L712,470 L535,460 Z" fill="#f4f1ec" stroke="#a09282" stroke-width="3"/>
<path d="M555,325 L575,325 L575,375 L555,375 Z" fill="#3d3530"/><path d="M585,350 L690,352 L690,372 L585,370 Z" fill="#3d3530"/>
<path d="M555,400 L690,405" stroke="#8d8580" stroke-width="5"/><path d="M555,425 L670,430" stroke="#b0a8a0" stroke-width="5"/>
<path d="M730,325 L845,330 L845,490 L730,485 Z" fill="#f4f1ec" stroke="#a09282" stroke-width="3"/>
<path d="M740,345 L830,348 L830,380 L740,378 Z" fill="#cf5a42"/><path d="M742,410 L830,412" stroke="#8d8580" stroke-width="5"/><path d="M765,450 L805,450 L805,468 L765,468 Z" fill="#3d3530"/>
<path d="M1045,720 L1205,688 L1208,820 L1050,852 Z" fill="#f4f1ec" stroke="#8a7a6c" stroke-width="3"/>
<g stroke="#3d3530" stroke-width="8"><path d="M1062,742 L1145,726"/><path d="M1062,775 L1185,752"/><path d="M1062,805 L1190,781"/><path d="M1062,830 L1185,808"/></g>
</g>
<g transform="translate(1250,1280) scale(0.12594)">
<g fill="#b5845a">
 <rect x="100" y="820" width="268" height="342"/>
 <path d="M365,860 L540,860 Q570,870 600,920 L642,1000 L642,1162 L365,1162 Z"/>
</g>
<g fill="#f7efe4"><path d="M388,898 L498,898 L498,1015 L388,1015 Z"/><path d="M512,898 L540,898 L612,1000 L512,1015 Z"/></g>
<circle cx="604" cy="1082" r="20" fill="#f7efe4"/>
<circle cx="458" cy="1168" r="52" fill="#b5845a"/><circle cx="458" cy="1168" r="26" fill="#f7efe4"/>
<g fill="none" stroke="#a08f80" stroke-width="11" opacity="0.85">
 <path d="M150,640 Q200,570 265,620 Q300,700 220,760 Q130,780 120,700 Q120,660 150,640 Z"/>
 <path d="M160,660 Q195,690 175,740"/>
 <path d="M300,630 Q370,585 435,615 Q480,690 420,750 Q340,780 290,720 Q270,670 300,630 Z"/>
 <path d="M320,650 Q380,640 420,680 Q410,720 370,730"/>
</g>
<g fill="#b98f67">
 <path d="M335,270 L380,248 L450,240 L520,238 L560,228 L620,215 L685,215 L670,240 L640,255 L610,262 L590,280 L560,300 L530,320 L515,345 L500,380 L492,405 L470,420 L450,395 L430,385 L410,370 L395,340 L380,300 L360,285 Z"/>
 <path d="M470,418 L500,415 L520,440 L500,450 Z"/>
 <path d="M500,450 L545,440 L590,460 L640,490 L620,530 L590,570 L560,610 L548,660 L532,640 L522,590 L505,540 L495,490 Z"/>
 <path d="M690,300 L730,280 L760,250 L800,240 L850,238 L900,232 L960,228 L1020,230 L1080,238 L1140,242 L1220,252 L1200,275 L1180,295 L1160,320 L1140,345 L1110,380 L1090,410 L1062,420 L1050,450 L1030,440 L1000,410 L980,430 L962,440 L940,400 L910,370 L880,350 L850,345 L820,330 L780,330 L750,320 L720,320 Z"/>
 <path d="M688,352 L730,336 L780,336 L830,346 L860,376 L880,420 L862,470 L842,510 L822,550 L802,592 L786,572 L776,530 L760,482 L730,462 L700,452 L680,422 L684,380 Z"/>
 <path d="M1075,560 L1100,530 L1140,512 L1175,515 L1196,540 L1190,580 L1160,602 L1130,596 L1090,586 Z"/>
 <path d="M872,520 L890,515 L885,550 L870,548 Z"/><path d="M1230,600 L1248,598 L1235,630 L1222,628 Z"/>
 <path d="M1040,440 L1070,455 L1100,470 L1080,480 L1050,465 Z"/>
</g>
</g>
<path d="M1500,1470 Q1506,1500 1537,1506 Q1506,1512 1500,1543 Q1494,1512 1465,1506 Q1494,1500 1500,1470 Z" fill="#fcf8f3" opacity="0.6"/><g class="t">
 <text transform="translate(243,131.6) scale(0.74,1)" font-size="75" font-weight="bold" letter-spacing="3.92" fill="#4a2d1e" stroke="#4a2d1e" stroke-width="0.9">Tree Bookshelf Customization Process</text>
 <g font-size="40" font-weight="bold" fill="#3b291d" stroke="#3b291d" stroke-width="0.3">
  <text transform="translate(415,300.3) scale(0.76,1)" letter-spacing="1.23">Customer Request</text>
  <text transform="translate(391,573.4) scale(0.76,1)" letter-spacing="1.80">Design &amp; Planning</text>
  <text transform="translate(384,827.5) scale(0.76,1)" letter-spacing="1.13">Production</text>
  <text transform="translate(378,1088.2) scale(0.76,1)" letter-spacing="1.31">Quality Check</text>
  <text transform="translate(406,1346) scale(0.76,1)" letter-spacing="1.46">Packing &amp; Shipping</text>
 </g>
 <g fill="#3b3028" stroke="#3b3028" stroke-width="0.12">
  <text transform="translate(414.4,355.7) scale(0.82,1)" font-size="31" letter-spacing="1.12">Provide booksheff size, design</text>
  <text transform="translate(414.4,390.6) scale(0.82,1)" font-size="31" letter-spacing="1.12">style, and preforred</text>
  <text transform="translate(414.4,425.4) scale(0.82,1)" font-size="31" letter-spacing="1.12">wood type.</text>
  <text transform="translate(390.5,628.2) scale(0.82,1)" font-size="29.5" letter-spacing="1.7">3D sketch and measurement confirnation</text>
  <text transform="translate(390.5,663.7) scale(0.82,1)" font-size="29.5" letter-spacing="1.7">before production.</text>
  <text transform="translate(383.7,883.2) scale(0.82,1)" font-size="30" letter-spacing="1.51">Handcrafted within 10–15 days</text>
  <text transform="translate(383.7,917.4) scale(0.82,1)" font-size="30" letter-spacing="1.51">depending or complexity.</text>
  <text transform="translate(374.4,1143.5) scale(0.82,1)" font-size="29.5" letter-spacing="1.84">Inspected for quality, stability, and finish</text>
  <text transform="translate(374.4,1178.8) scale(0.82,1)" font-size="29.5" letter-spacing="1.84">fiish before shipping</text>
  <text transform="translate(413.5,1399.7) scale(0.82,1)" font-size="30.5" letter-spacing="1.39">Safely packaged and shipped</text>
  <text transform="translate(413.5,1435.3) scale(0.82,1)" font-size="30.5" letter-spacing="1.39">worldwide.</text>
 </g>
</g>
</svg>
</body></html>
